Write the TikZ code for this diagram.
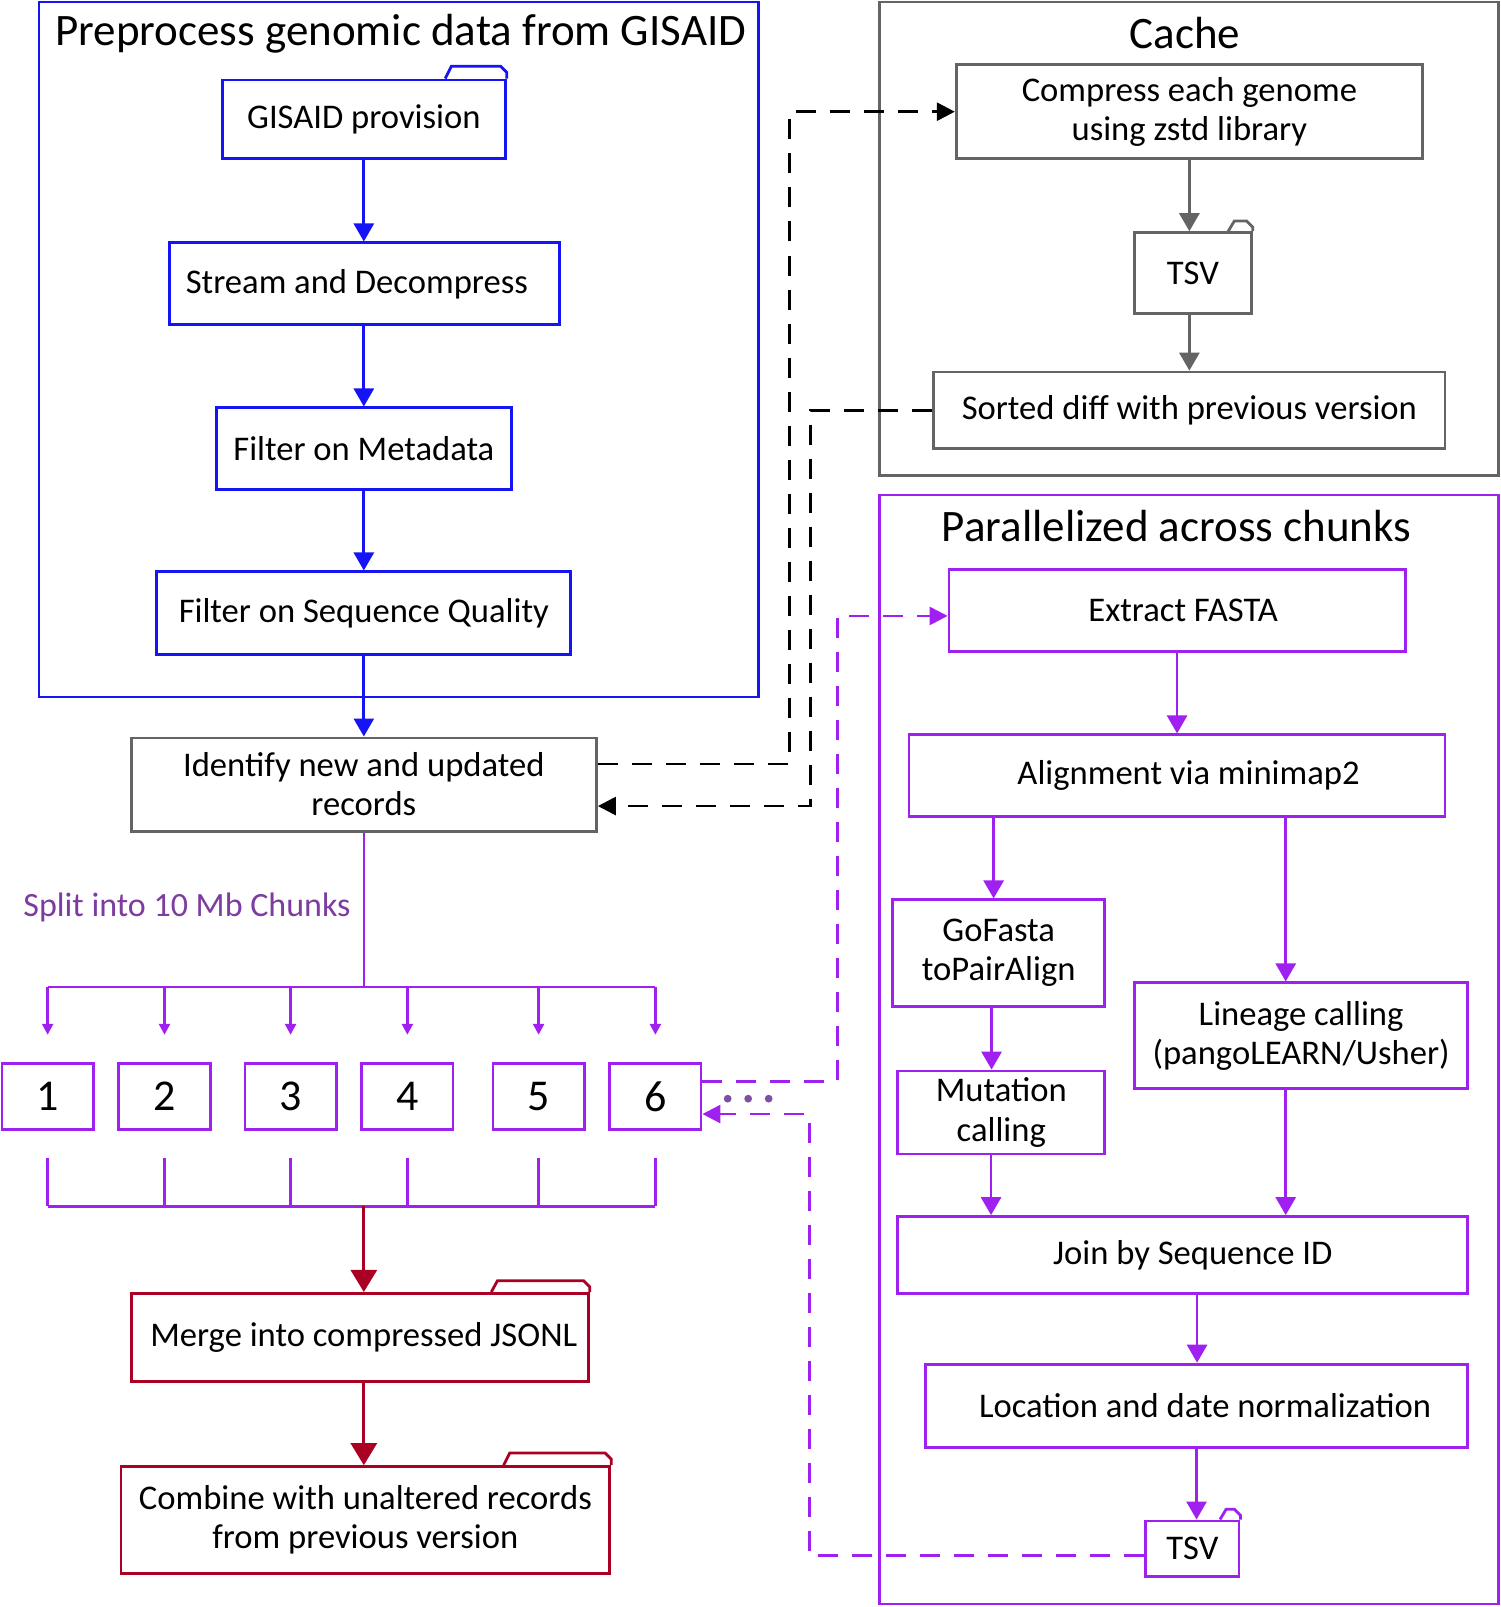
\documentclass[tikz,border=0pt]{standalone}
\usepackage{fontspec}
\setmainfont{Carlito}
\usetikzlibrary{positioning, arrows.meta, calc}

\definecolor{pblue}{RGB}{20,20,245}
\definecolor{cgray}{RGB}{100,100,100}
\definecolor{ppurp}{RGB}{160,32,240}
\definecolor{pred}{RGB}{170,0,35}
\definecolor{splitc}{RGB}{125,60,160}
\definecolor{dotc}{RGB}{125,80,165}

\def\pxu{0.5123pt}
\newcommand{\boxfont}{\fontsize{17.3}{19.5}\selectfont}
\newcommand{\ttlfont}{\fontsize{22.5}{26}\selectfont}

%% folder tab on top right of a node: node, colour, tab width, tab height
\newcommand{\foldertab}[4]{%
  \draw[#2, line width=1.4pt]
    ([xshift=-#3*\pxu]#1.north east) -- ++(6,-#4)
    -- ([xshift=-6*\pxu, yshift=#4*\pxu]#1.north east)
    -- ([yshift=(#4-6)*\pxu]#1.north east) -- (#1.north east);}

\begin{document}
\begin{tikzpicture}[
  x=0.5123pt, y=-0.5123pt,
  box/.style={draw, line width=1.4pt, fill=white, align=center, font=\boxfont, inner sep=0pt},
  bbox/.style={box, draw=pblue},
  gbox/.style={box, draw=cgray},
  pbox/.style={box, draw=ppurp},
  rbox/.style={box, draw=pred},
  ttl/.style={font=\ttlfont},
  arrb/.style={-{Triangle[length=9pt,width=10pt]}, line width=1.4pt, pblue},
  arrg/.style={-{Triangle[length=9pt,width=10pt]}, line width=1.4pt, cgray},
  arrp/.style={-{Triangle[length=9pt,width=10pt]}, line width=1.4pt, ppurp},
  arrr/.style={-{Triangle[length=11pt,width=13pt]}, line width=1.4pt, pred},
  stub/.style={-{Triangle[length=5.5pt,width=5.5pt]}, line width=1.3pt, ppurp},
  dblk/.style={line width=1.4pt, dash pattern=on 10pt off 7pt, black},
  dpur/.style={line width=1.3pt, dash pattern=on 10pt off 7pt, ppurp}
]
\useasboundingbox (0,0) rectangle (1464,1568);

% ---------- Preprocess (blue) ----------
\draw[pblue, line width=1.4pt] (38,2) rectangle (740,680);
\node[ttl] (pretitle) at (391,33) {Preprocess genomic data from GISAID};

\node[bbox, minimum width=276*\pxu, minimum height=77*\pxu] (gisaid) at (355,116.5) {GISAID provision};
\foldertab{gisaid}{pblue}{60}{12}
\node[bbox, minimum width=381*\pxu, minimum height=80*\pxu] (stream) at (355.5,277) {Stream and Decompress\hspace*{7.5pt}};
\node[bbox, minimum width=288*\pxu, minimum height=80*\pxu] (meta) at (355,438) {Filter on Metadata};
\node[bbox, minimum width=404*\pxu, minimum height=81*\pxu] (qual) at (355,598.5) {Filter on Sequence Quality};

\draw[arrb] (gisaid.south) -- (gisaid.south |- stream.north);
\draw[arrb] (gisaid.south |- stream.south) -- (meta.north);
\draw[arrb] (meta.south) -- (qual.north);

\node[gbox, minimum width=454*\pxu, minimum height=91*\pxu] (ident) at (355,765.5) {Identify new and updated\\records};
\draw[arrb] (qual.south) -- (ident.north);

% ---------- Cache (gray) ----------
\draw[cgray, line width=1.4pt] (858,2) rectangle (1462,464);
\node[ttl] (cachetitle) at (1156,32) {Cache};

\node[gbox, minimum width=455*\pxu, minimum height=92*\pxu] (compress) at (1160.5,109) {Compress each genome\\using zstd library};
\node[gbox, minimum width=114*\pxu, minimum height=79*\pxu] (tsvc) at (1164,266.5) {TSV};
\foldertab{tsvc}{cgray}{24}{10}
\node[gbox, minimum width=499*\pxu, minimum height=75*\pxu] (sorted) at (1160.5,400.5) {Sorted diff with previous version};

\draw[arrg] (compress.south) -- (compress.south |- tsvc.north);
\draw[arrg] (compress.south |- tsvc.south) -- (compress.south |- sorted.north);

% ---------- Parallelized (purple) ----------
\draw[ppurp, line width=1.4pt] (858,483) rectangle (1462,1565);
\node[ttl] (partitle) at (1148,513) {Parallelized across chunks};

\node[pbox, minimum width=445*\pxu, minimum height=80*\pxu] (fasta) at (1148.5,596) {\hspace*{6pt}Extract FASTA};
\node[pbox, minimum width=523*\pxu, minimum height=80*\pxu] (align) at (1148.5,757) {\hspace*{11.5pt}Alignment via minimap2};
\node[pbox, minimum width=207*\pxu, minimum height=104*\pxu] (gofasta) at (974.5,930) {GoFasta\\toPairAlign};
\node[pbox, minimum width=202*\pxu, minimum height=81*\pxu] (mut) at (977,1085.5) {Mutation\\calling};
\node[pbox, minimum width=325*\pxu, minimum height=103*\pxu] (lineage) at (1269.5,1010.5) {Lineage calling\\(pangoLEARN/Usher)};
\node[pbox, minimum width=556*\pxu, minimum height=75*\pxu] (join) at (1154,1224.5) {\hspace*{10pt}Join by Sequence ID};
\node[pbox, minimum width=529*\pxu, minimum height=81*\pxu] (loc) at (1167.5,1371.5) {\hspace*{8.5pt}Location and date normalization};
\node[pbox, minimum width=91*\pxu, minimum height=54*\pxu] (tsvp) at (1163.5,1511) {TSV};
\foldertab{tsvp}{ppurp}{20}{10}

\draw[arrp] (fasta.south) -- (fasta.south |- align.north);
\draw[arrp] ([xshift=-5*\pxu]gofasta.north |- align.south) -- ([xshift=-5*\pxu]gofasta.north);
\draw[arrp] ([xshift=-15*\pxu]lineage.north |- align.south) -- ([xshift=-15*\pxu]lineage.north);
\draw[arrp] ([xshift=-7*\pxu]gofasta.south) -- ([xshift=-7*\pxu]gofasta.south |- mut.north);
\draw[arrp] ([xshift=-10*\pxu]mut.south) -- ([xshift=-10*\pxu]mut.south |- join.north);
\draw[arrp] ([xshift=-15*\pxu]lineage.south) -- ([xshift=-15*\pxu]lineage.south |- join.north);
\draw[arrp] ([xshift=14*\pxu]join.south) -- ([xshift=14*\pxu]join.south |- loc.north);
\draw[arrp] (loc.south) -- (loc.south |- tsvp.north);

% ---------- Chunks ----------
\foreach \i/\cx in {1/46.5, 2/160.5, 3/283.5, 4/397.5, 5/525.5, 6/639.5}
  \node[pbox, font=\fontsize{22}{24}\selectfont, minimum width=89*\pxu, minimum height=64*\pxu] (c\i) at (\cx,1070) {\i};

\coordinate (splitbar) at (355,963);
\coordinate (mergebar) at (355,1177);
\node[font=\fontsize{17}{20}\selectfont, text=splitc, anchor=east] (splitlbl) at (349,885) {Split into 10 Mb Chunks};

\draw[ppurp, line width=1.3pt] (ident.south) -- (splitbar);
\draw[ppurp, line width=1.3pt] (c1.north |- splitbar) -- (c6.north |- splitbar);
\draw[ppurp, line width=1.3pt] (c1.south |- mergebar) -- (c6.south |- mergebar);
\foreach \i in {1,...,6} {
  \draw[stub] (c\i.north |- splitbar) -- ([yshift=27*\pxu]c\i.north);
  \draw[ppurp, line width=1.3pt] ([yshift=-27*\pxu]c\i.south) -- (c\i.south |- mergebar);
}
\foreach \dx in {710,730,750}
  \fill[dotc] (\dx,1072) circle (3.8);

% ---------- Merge (red) ----------
\node[rbox, minimum width=446*\pxu, minimum height=86*\pxu] (merge) at (351,1305) {\hspace*{4pt}Merge into compressed JSONL};
\foldertab{merge}{pred}{96}{11}
\node[rbox, minimum width=477*\pxu, minimum height=104*\pxu] (combine) at (356.5,1483) {Combine with unaltered records\\from previous version};
\foldertab{combine}{pred}{105}{12}

\draw[arrr] (mergebar) -- (mergebar |- merge.north);
\draw[arrr] (mergebar |- merge.south) -- (mergebar |- combine.north);

% ---------- Dashed connectors ----------
\draw[dblk, -{Triangle[length=9pt,width=9pt]}] ([yshift=20*\pxu]ident.east) -- ++(187,0) |- (compress.west);
\draw[dblk, -{Triangle[length=9pt,width=9pt]}] (sorted.west) -- ++(-119,0) |- ([yshift=-21*\pxu]ident.east);
\draw[dpur, -{Triangle[length=9pt,width=9pt]}] ([yshift=15*\pxu]c6.east) -- ++(132,0) |- ([yshift=-5*\pxu]fasta.west);
\draw[dpur, -{Triangle[length=9pt,width=9pt]}] ([yshift=-7*\pxu]tsvp.west) -- ++(-327,0) |- ([yshift=-17*\pxu]c6.east);

\end{tikzpicture}
\end{document}
